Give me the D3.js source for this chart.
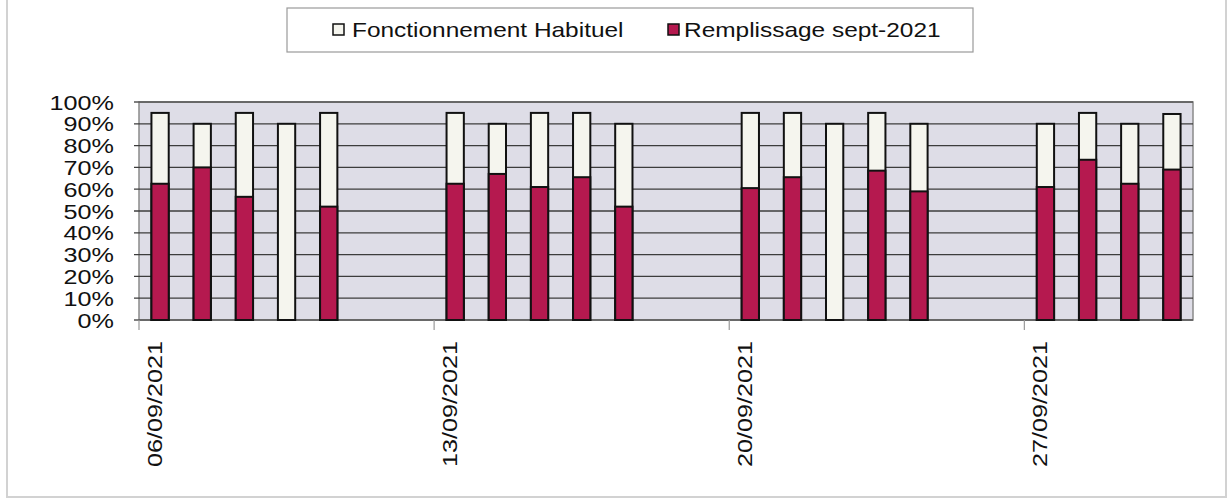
<!DOCTYPE html>
<html>
<head>
<meta charset="utf-8">
<script src="https://cdn.jsdelivr.net/npm/d3@7"></script>
<style>
    body { margin: 0; background: #fff; }
    text { font-family: "Liberation Sans", Arial, sans-serif; fill: #111; }
</style>
</head>
<body>
<div id="root"></div>
<script>
// ---------------------------- DATA ----------------------------
const days = ["06/09/2021","07/09/2021","08/09/2021","09/09/2021","10/09/2021","11/09/2021","12/09/2021",
    "13/09/2021","14/09/2021","15/09/2021","16/09/2021","17/09/2021","18/09/2021","19/09/2021",
    "20/09/2021","21/09/2021","22/09/2021","23/09/2021","24/09/2021","25/09/2021","26/09/2021",
    "27/09/2021","28/09/2021","29/09/2021","30/09/2021"];
// Fonctionnement Habituel (%), null = week-end
const habituel = [95, 90, 95, 90, 95, null, null,
    95, 90, 95, 95, 90, null, null,
    95, 95, 90, 95, 90, null, null,
    90, 95, 90, 94.5];
// Remplissage sept-2021 (%)
const remplissage = [62.5, 70, 56.5, 0, 52, null, null,
    62.5, 67, 61, 65.5, 52, null, null,
    60.5, 65.5, 0, 68.5, 59, null, null,
    61, 73.5, 62.5, 69];
const tickLabels = ["06/09/2021", "13/09/2021", "20/09/2021", "27/09/2021"];
const yTicks = [0, 10, 20, 30, 40, 50, 60, 70, 80, 90, 100];
const seriesNames = ["Fonctionnement Habituel", "Remplissage sept-2021"];

// ---------------------------- CONFIGURATION ----------------------------
const width = 1228;
const height = 499;
const plot = { left: 139, right: 1193, top: 102, bottom: 320 };
const red = "#b5194f";
const cream = "#f5f5ee";
const fontSize = 21;
const stretch = 1.2; // glyphs in the reference are wider than Arial

const svg = d3.select("#root")
    .append("svg")
    .attr("width", width)
    .attr("height", height);

const x = d3.scalePoint()
    .domain(days)
    .range([plot.left, plot.right])
    .padding(0.5);
const step = x.step();
const barWidth = step * 0.41;

const y = d3.scaleLinear()
    .domain([0, 100])
    .range([plot.bottom, plot.top]);

// Outer frame (top edge is cut off in the scan)
svg.append("path")
    .attr("d", "M7,0 V497 H1226 V0")
    .attr("fill", "none")
    .attr("stroke", "#d2d2d2")
    .attr("stroke-width", 2);

// ---------------------------- LEGEND ----------------------------
const legend = svg.append("g");
legend.append("rect")
    .attr("x", 287).attr("y", 8)
    .attr("width", 686).attr("height", 44)
    .attr("fill", "#fff")
    .attr("stroke", "#9a9a9a")
    .attr("stroke-width", 1.2);

const legendItems = [
    { name: seriesNames[0], fill: cream, sx: 333, tx: 352 },
    { name: seriesNames[1], fill: red, sx: 668, tx: 684 }
];
legend.selectAll("rect.key")
    .data(legendItems)
    .enter()
    .append("rect")
    .attr("class", "key")
    .attr("x", d => d.sx).attr("y", 24)
    .attr("width", 11).attr("height", 11)
    .attr("fill", d => d.fill)
    .attr("stroke", "#111")
    .attr("stroke-width", 1.5);
legend.selectAll("text")
    .data(legendItems)
    .enter()
    .append("text")
    .attr("transform", d => "translate(" + d.tx + ",37) scale(" + (stretch * 0.97) + ",1)")
    .style("font-size", fontSize + "px")
    .text(d => d.name);

// ---------------------------- PLOT AREA ----------------------------
svg.append("rect")
    .attr("x", plot.left).attr("y", plot.top)
    .attr("width", plot.right - plot.left)
    .attr("height", plot.bottom - plot.top)
    .attr("fill", "#dedde7")
    .attr("stroke", "#8a8a8a")
    .attr("stroke-width", 1.5);

// Gridlines + little ticks on the left
svg.append("g")
    .selectAll("line")
    .data(yTicks)
    .enter()
    .append("line")
    .attr("x1", plot.left - 5)
    .attr("x2", plot.right)
    .attr("y1", d => y(d))
    .attr("y2", d => y(d))
    .attr("stroke", d => d == 0 || d == 100 ? "#555" : "#3c3c3c")
    .attr("stroke-width", 1.3);

// Y labels
svg.append("g")
    .selectAll("text")
    .data(yTicks)
    .enter()
    .append("text")
    .attr("transform", d => "translate(114," + (y(d) + 7.5) + ") scale(" + stretch + ",1)")
    .attr("text-anchor", "end")
    .style("font-size", fontSize + "px")
    .text(d => d3.format(".0%")(d / 100));

// X ticks at category boundaries of each labelled date
svg.append("g")
    .selectAll("line")
    .data(tickLabels)
    .enter()
    .append("line")
    .attr("x1", d => x(d) - step / 2)
    .attr("x2", d => x(d) - step / 2)
    .attr("y1", plot.bottom)
    .attr("y2", plot.bottom + 10)
    .attr("stroke", "#9a9a9a")
    .attr("stroke-width", 1.2);

svg.append("g")
    .selectAll("text")
    .data(tickLabels)
    .enter()
    .append("text")
    .attr("transform", d => "translate(" + (x(d) + 2) + "," + (plot.bottom + 21) + ") rotate(-90) scale(" + stretch + ",1)")
    .attr("text-anchor", "end")
    .style("font-size", fontSize + "px")
    .text(d => d);

// ---------------------------- BARS ----------------------------
const rows = days.map((d, i) => ({ day: d, hab: habituel[i], rem: remplissage[i] }))
    .filter(d => d.hab != null);

svg.append("g")
    .selectAll("rect")
    .data(rows)
    .enter()
    .append("rect")
    .attr("x", d => x(d.day) - barWidth / 2)
    .attr("y", d => y(d.hab))
    .attr("width", barWidth)
    .attr("height", d => y(0) - y(d.hab))
    .attr("fill", cream)
    .attr("stroke", "#111")
    .attr("stroke-width", 2);

svg.append("g")
    .selectAll("rect")
    .data(rows.filter(d => d.rem > 0))
    .enter()
    .append("rect")
    .attr("x", d => x(d.day) - barWidth / 2)
    .attr("y", d => y(d.rem))
    .attr("width", barWidth)
    .attr("height", d => y(0) - y(d.rem))
    .attr("fill", red)
    .attr("stroke", "#111")
    .attr("stroke-width", 2);
</script>
</body>
</html>
